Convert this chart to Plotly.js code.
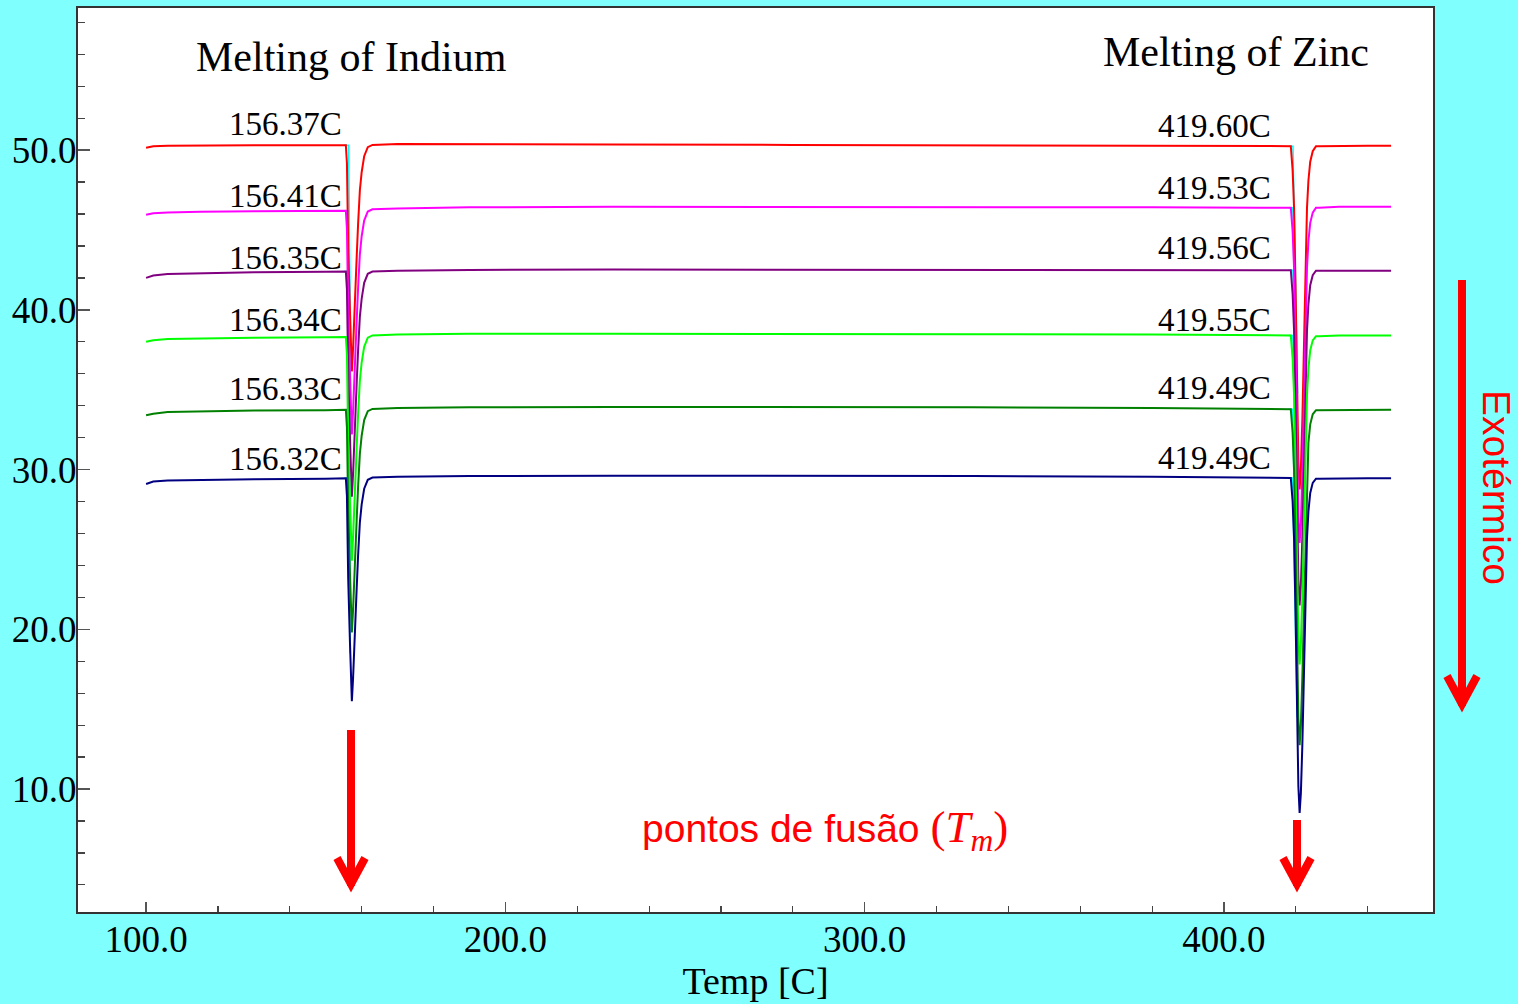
<!DOCTYPE html>
<html>
<head>
<meta charset="utf-8">
<script src="https://cdn.plot.ly/plotly-3.0.1.min.js"></script>
<style>
html,body{margin:0;padding:0;background:#80FFFF;}
#chart{width:1518px;height:1004px;}
</style>
</head>
<body>
<div id="chart"></div>
<script>
// ---- data ----
const temps = [100, 102, 106, 115, 130, 150, 155,
  155.6, 155.9, 156.25, 156.75, 157.27, 157.6, 157.9, 158.3, 158.6, 159.0, 159.5, 160.0, 160.7, 161.7, 163,
  170, 190, 230, 280, 330, 380, 410, 417.5,
  418.6, 419.1, 419.5, 419.9, 420.3, 420.7, 421.05, 421.4, 421.8, 422.3, 422.7, 423.1, 423.5, 424.0, 424.7, 425.6, 426.5,
  432, 440, 446.5];

const redRun = [50.15, 50.25, 50.28, 50.3, 50.3, 50.3, 50.3,
  50.3, 49.17, 43.93, 39.82, 36.14, 37.56, 39.55, 41.82, 43.24, 45.36, 47.49, 48.63, 49.62, 50.19, 50.33,
  50.38, 50.38, 50.35, 50.33, 50.3, 50.28, 50.25, 50.25,
  50.25, 48.75, 46.38, 41.65, 36.27, 30.47, 28.75, 30.04, 33.05, 37.56, 42.08, 46.38, 48.1, 49.28, 49.93, 50.25, 50.25,
  50.27, 50.27, 50.27];

const magentaRun = [45.95, 46.05, 46.1, 46.15, 46.18, 46.2, 46.2,
  46.2, 45.08, 39.9, 35.84, 32.2, 33.61, 35.58, 37.84, 39.25, 41.36, 43.48, 44.61, 45.59, 46.16, 46.3,
  46.35, 46.42, 46.45, 46.45, 46.45, 46.42, 46.4, 46.4,
  46.4, 44.93, 42.62, 38.0, 32.75, 27.08, 25.4, 26.66, 29.6, 34.01, 38.42, 42.62, 44.3, 45.45, 46.09, 46.4, 46.4,
  46.45, 46.45, 46.45];

const purpleRun = [42.0, 42.15, 42.25, 42.3, 42.35, 42.38, 42.4,
  42.4, 41.27, 36.05, 31.97, 28.3, 29.71, 31.68, 33.94, 35.35, 37.46, 39.58, 40.71, 41.69, 42.26, 42.4,
  42.45, 42.5, 42.52, 42.52, 42.5, 42.5, 42.48, 42.48,
  42.48, 41.01, 38.7, 34.09, 28.84, 23.18, 21.5, 22.76, 25.7, 30.1, 34.51, 38.7, 40.38, 41.54, 42.17, 42.45, 42.45,
  42.45, 42.45, 42.45];

const limeRun = [38.0, 38.1, 38.18, 38.22, 38.25, 38.28, 38.3,
  38.3, 37.18, 32.0, 27.94, 24.3, 25.71, 27.68, 29.94, 31.35, 33.46, 35.58, 36.71, 37.69, 38.26, 38.4,
  38.45, 38.5, 38.5, 38.5, 38.48, 38.45, 38.42, 38.4,
  38.4, 36.96, 34.69, 30.16, 25.01, 19.45, 17.8, 19.04, 21.92, 26.25, 30.57, 34.69, 36.34, 37.47, 38.09, 38.35, 38.35,
  38.4, 38.4, 38.4];

const greenRun = [33.4, 33.5, 33.6, 33.65, 33.7, 33.72, 33.75,
  33.75, 32.63, 27.47, 23.43, 19.8, 21.2, 23.16, 25.4, 26.8, 28.9, 31.0, 32.12, 33.1, 33.66, 33.8,
  33.85, 33.9, 33.92, 33.92, 33.9, 33.85, 33.8, 33.78,
  33.78, 32.31, 29.99, 25.37, 20.11, 14.43, 12.75, 14.01, 16.96, 21.37, 25.79, 29.99, 31.68, 32.83, 33.46, 33.72, 33.72,
  33.75, 33.75, 33.75];

const navyRun = [29.1, 29.25, 29.32, 29.36, 29.4, 29.43, 29.45,
  29.45, 28.33, 23.17, 19.13, 15.5, 16.9, 18.86, 21.1, 22.5, 24.6, 26.7, 27.82, 28.8, 29.36, 29.5,
  29.55, 29.6, 29.62, 29.62, 29.6, 29.55, 29.5, 29.48,
  29.48, 28.01, 25.7, 21.09, 15.84, 10.18, 8.5, 9.76, 12.7, 17.1, 21.51, 25.7, 27.38, 28.54, 29.17, 29.43, 29.43,
  29.45, 29.45, 29.45];

const indiumOnset = [156.37, 156.41, 156.35, 156.34, 156.33, 156.32];
const zincOnset   = [419.60, 419.53, 419.56, 419.55, 419.49, 419.49];

const xTickVals = [100, 200, 300, 400];
const xTickText = ['100.0', '200.0', '300.0', '400.0'];
const yTickVals = [10, 20, 30, 40, 50];
const yTickText = ['10.0', '20.0', '30.0', '40.0', '50.0'];

// ---- styling ----
const runs = [redRun, magentaRun, purpleRun, limeRun, greenRun, navyRun];
const colors = ['#FF0000', '#FF00FF', '#800080', '#00FF00', '#008000', '#000080'];
const inLabelPx = [124, 196, 258, 320, 389, 459];
const znLabelPx = [126, 188, 248, 320, 388, 458];

const L = 78, R = 1433, T = 8, B = 912;
const px = v => (v - L) / (R - L);
const py = v => (B - v) / (B - T);

const traces = [];
const inBaseIdx = 7, inMinIdx = 11, znBaseIdx = 30, znMinIdx = 36;
runs.forEach((run, i) => {
  // onset construction lines (cyan)
  traces.push({
    x: [indiumOnset[i] - 1.3, indiumOnset[i], indiumOnset[i] + 0.45],
    y: [run[inBaseIdx], run[inBaseIdx], run[inMinIdx] + 3],
    mode: 'lines', line: {color: '#00FFFF', width: 1.5}, hoverinfo: 'skip', showlegend: false
  });
  traces.push({
    x: [zincOnset[i] - 1.6, zincOnset[i] - 0.4, zincOnset[i] + 0.9],
    y: [run[znBaseIdx], run[znBaseIdx], run[znMinIdx] + 6],
    mode: 'lines', line: {color: '#00FFFF', width: 1.5}, hoverinfo: 'skip', showlegend: false
  });
});
runs.forEach((run, i) => {
  traces.push({
    x: temps, y: run, mode: 'lines',
    line: {color: colors[i], width: 2}, showlegend: false
  });
});

const serif = 'Liberation Serif, Times New Roman, serif';
const sans = 'Liberation Sans, Arial, sans-serif';

const annotations = [
  {xref: 'paper', yref: 'paper', x: px(351), y: py(57), text: 'Melting of Indium',
   showarrow: false, xanchor: 'center', yanchor: 'middle', font: {family: serif, size: 42, color: '#000'}},
  {xref: 'paper', yref: 'paper', x: px(1236), y: py(52), text: 'Melting of Zinc',
   showarrow: false, xanchor: 'center', yanchor: 'middle', font: {family: serif, size: 42, color: '#000'}},
  {xref: 'paper', yref: 'paper', x: px(825), y: py(830),
   text: 'pontos de fusão <span style="font-family:Liberation Serif;font-size:45px">(<i>T</i><sub><i>m</i></sub>)</span>',
   showarrow: false, xanchor: 'center', yanchor: 'middle', font: {family: sans, size: 39, color: '#FF0000'}},
  {xref: 'paper', yref: 'paper', x: px(1497), y: py(487), text: 'Exotérmico', textangle: 90,
   showarrow: false, xanchor: 'center', yanchor: 'middle', font: {family: sans, size: 39, color: '#FF0000'}}
];
indiumOnset.forEach((v, i) => {
  annotations.push({xref: 'paper', yref: 'paper', x: px(344), y: py(inLabelPx[i]),
    text: v.toFixed(2) + 'C', showarrow: false, xanchor: 'right', yanchor: 'middle',
    font: {family: serif, size: 33, color: '#000'}});
});
zincOnset.forEach((v, i) => {
  annotations.push({xref: 'paper', yref: 'paper', x: px(1273), y: py(znLabelPx[i]),
    text: v.toFixed(2) + 'C', showarrow: false, xanchor: 'right', yanchor: 'middle',
    font: {family: serif, size: 33, color: '#000'}});
});

function arrowShapes(xc, y0, yTip, half, armLen) {
  const line = {color: '#FF0000', width: 8};
  return [
    {type: 'line', xref: 'paper', yref: 'paper', x0: px(xc), x1: px(xc), y0: py(y0), y1: py(yTip - 6), line: line},
    {type: 'path', xref: 'paper', yref: 'paper',
     path: `M ${px(xc - half)},${py(yTip - 8 - armLen)} L ${px(xc)},${py(yTip - 8)} L ${px(xc + half)},${py(yTip - 8 - armLen)}`,
     line: line}
  ];
}
const shapes = [].concat(
  arrowShapes(1462, 280, 712, 15, 28),
  arrowShapes(351, 730, 892, 14, 26),
  arrowShapes(1297, 820, 892, 14, 26)
);

const layout = {
  width: 1518, height: 1004,
  margin: {l: L, r: 1518 - R, t: T, b: 1004 - B, pad: 0},
  paper_bgcolor: '#80FFFF', plot_bgcolor: '#FFFFFF',
  showlegend: false,
  xaxis: {
    range: [81.05, 458.17], tickvals: xTickVals, ticktext: xTickText,
    ticks: 'inside', ticklen: 10, tickwidth: 1.5, tickcolor: '#555',
    minor: {dtick: 20, tick0: 0, ticks: 'inside', ticklen: 6, tickwidth: 1.2, tickcolor: '#444'},
    showgrid: false, zeroline: false, showline: true, linecolor: '#333', linewidth: 2, mirror: true,
    tickfont: {family: serif, size: 37, color: '#000'}, ticklabelstandoff: -6,
    title: {text: 'Temp [C]', font: {family: serif, size: 38, color: '#000'}, standoff: 4},
    automargin: false
  },
  yaxis: {
    range: [2.3, 58.9], tickvals: yTickVals, ticktext: yTickText,
    ticks: 'inside', ticklen: 12, tickwidth: 1.5, tickcolor: '#555',
    minor: {dtick: 2, tick0: 0, ticks: 'inside', ticklen: 7, tickwidth: 1.2, tickcolor: '#444'},
    showgrid: false, zeroline: false, showline: true, linecolor: '#333', linewidth: 2, mirror: true,
    tickfont: {family: serif, size: 37, color: '#000'}, ticklabelstandoff: -8,
    automargin: false
  },
  annotations: annotations,
  shapes: shapes
};

Plotly.newPlot('chart', traces, layout, {staticPlot: true, displayModeBar: false});
</script>
</body>
</html>
